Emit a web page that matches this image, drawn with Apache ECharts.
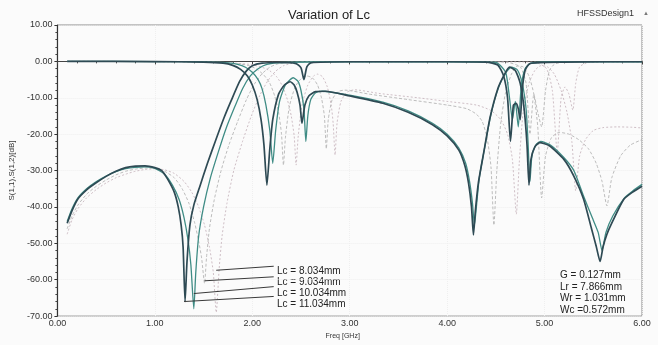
<!DOCTYPE html>
<html>
<head>
<meta charset="utf-8">
<script src="https://cdn.jsdelivr.net/npm/echarts@6/dist/echarts.min.js"></script>
<style>
  html, body { margin: 0; padding: 0; background: #fbfbfb; }
  #chart { width: 658px; height: 345px; }
</style>
</head>
<body>
<div id="chart"></div>
<script>
// curves: [freq GHz, dB]
const lc11S11 = [[0.10,-44.5],[0.15,-41],[0.21,-37.8],[0.30,-35.3],[0.39,-33.5],[0.50,-31.6],[0.60,-30.2],[0.70,-29.2],[0.80,-28.8],[0.90,-28.7],[1.00,-29.2],[1.07,-30],[1.13,-32.3],[1.20,-36],[1.24,-40],[1.27,-45],[1.29,-51],[1.31,-66],[1.33,-55],[1.36,-45],[1.40,-39.5],[1.46,-34.5],[1.54,-28],[1.62,-22],[1.71,-15.5],[1.78,-11],[1.87,-5.5],[1.94,-2.6],[2.00,-1.2],[2.10,-0.5],[2.25,-0.3],[2.45,-0.6],[2.50,-1.8],[2.53,-5],[2.56,-1.5],[2.60,-0.4],[3.00,-0.1],[3.50,-0.1],[4.00,-0.1],[4.40,-0.2],[4.52,-1],[4.58,-4],[4.62,-10],[4.65,-22],[4.68,-12],[4.71,-11.5],[4.73,-13],[4.75,-16],[4.77,-8],[4.80,-2.5],[4.85,-0.6],[5.20,-0.2],[5.60,-0.1],[6.00,-0.1]];
const lc11S12 = [[0.10,0],[1.00,-0.05],[1.50,-0.2],[1.70,-0.5],[1.80,-1.1],[1.88,-2.2],[1.95,-4],[2.00,-6.5],[2.05,-10.5],[2.09,-16],[2.12,-23],[2.15,-34],[2.18,-24],[2.21,-16],[2.27,-9],[2.33,-6.5],[2.39,-5.6],[2.43,-6.5],[2.46,-8.5],[2.49,-12],[2.51,-17],[2.54,-12],[2.58,-9.5],[2.65,-8.3],[2.75,-8.2],[3.00,-9.5],[3.34,-11.5],[3.60,-14],[3.85,-17.4],[4.00,-20.5],[4.12,-24.4],[4.18,-28.5],[4.22,-33.5],[4.25,-40],[4.27,-47.7],[4.29,-41],[4.32,-33.5],[4.38,-24.4],[4.44,-15.5],[4.52,-7.5],[4.59,-3.5],[4.64,-1.6],[4.70,-2.5],[4.75,-6],[4.79,-13],[4.82,-23],[4.84,-34],[4.86,-27],[4.90,-23.5],[4.95,-22.3],[5.05,-23.2],[5.20,-27],[5.30,-31.5],[5.40,-37.8],[5.48,-45.8],[5.53,-50.8],[5.57,-55],[5.60,-51],[5.64,-47.5],[5.68,-45],[5.81,-38],[5.90,-36],[6.00,-34.3]];

const lc10S11 = [[0.10,-44],[0.15,-40.5],[0.21,-37.5],[0.30,-35],[0.40,-33],[0.50,-31.5],[0.60,-30.3],[0.70,-29.5],[0.80,-29.1],[0.90,-29],[1.00,-29.4],[1.10,-31],[1.18,-34],[1.25,-38],[1.30,-43],[1.34,-49],[1.37,-56],[1.40,-68],[1.42,-58],[1.45,-48],[1.50,-40],[1.57,-32],[1.65,-25],[1.73,-18.5],[1.82,-12.5],[1.90,-7.5],[1.98,-4],[2.06,-2],[2.15,-0.8],[2.30,-0.3],[3.00,-0.1],[4.00,-0.1],[4.50,-0.3],[4.60,-3],[4.64,-10],[4.67,-16],[4.70,-11],[4.73,-18],[4.76,-7],[4.80,-2],[4.86,-0.5],[5.20,-0.1],[6.00,-0.1]];
const lc10S12 = [[0.10,0],[1.00,-0.05],[1.50,-0.15],[1.75,-0.4],[1.85,-0.8],[1.93,-1.6],[2.00,-3],[2.06,-5],[2.10,-7.5],[2.14,-12],[2.18,-19],[2.21,-28],[2.24,-19],[2.28,-11],[2.34,-6.5],[2.42,-4.5],[2.47,-5.5],[2.50,-8],[2.53,-13],[2.55,-22],[2.57,-15],[2.60,-10.5],[2.65,-8.6],[2.72,-8.2],[3.00,-9.3],[3.34,-11.2],[3.60,-13.6],[3.85,-17],[4.00,-20],[4.12,-23.8],[4.19,-28],[4.23,-33],[4.26,-39],[4.28,-45],[4.30,-40],[4.33,-32],[4.39,-23],[4.45,-14.5],[4.53,-7],[4.60,-3.2],[4.66,-1.6],[4.72,-2.3],[4.77,-6],[4.81,-13],[4.83,-22],[4.85,-33],[4.87,-26],[4.91,-23],[4.96,-22],[5.06,-23],[5.20,-26.5],[5.30,-30],[5.40,-37],[5.49,-43],[5.55,-47],[5.59,-52],[5.63,-47],[5.70,-42.5],[5.82,-37.5],[5.91,-35.5],[6.00,-33.8]];

const lc9S11 = [[0.10,-46],[0.15,-42.5],[0.21,-39.5],[0.30,-36.5],[0.40,-34.3],[0.50,-32.6],[0.60,-31.2],[0.70,-30.2],[0.80,-29.6],[0.90,-29.3],[1.00,-29.4],[1.10,-30.2],[1.20,-32],[1.28,-35],[1.35,-39],[1.41,-44.5],[1.45,-49.5],[1.48,-54],[1.51,-61],[1.53,-54],[1.56,-46],[1.61,-38],[1.68,-30],[1.76,-23],[1.85,-16.5],[1.94,-10.5],[2.02,-6.3],[2.10,-3.4],[2.18,-1.6],[2.26,-0.7],[2.40,-0.2],[3.00,-0.1],[4.00,-0.1],[4.60,-0.2],[4.75,-1.5],[4.81,-6],[4.85,-20],[4.89,-9],[4.93,-14],[4.97,-18],[5.01,-8],[5.05,-2.5],[5.10,-0.8],[5.20,-0.2],[6.00,-0.1]];
const lc9S12 = [[0.10,0],[1.00,-0.05],[1.60,-0.2],[1.85,-0.6],[1.97,-1.2],[2.05,-2.2],[2.12,-3.8],[2.18,-6],[2.23,-9.5],[2.27,-14],[2.30,-20],[2.32,-28.5],[2.34,-21],[2.38,-12.5],[2.44,-7],[2.50,-4.8],[2.56,-4],[2.62,-4.6],[2.67,-6.5],[2.71,-10],[2.74,-15],[2.76,-24],[2.78,-16],[2.82,-10.5],[2.88,-8.3],[2.95,-7.9],[3.20,-9],[3.60,-10.5],[4.00,-12],[4.20,-13],[4.30,-14.5],[4.36,-16.5],[4.41,-21],[4.45,-29],[4.48,-45],[4.51,-30],[4.55,-17],[4.60,-8.5],[4.66,-3.5],[4.72,-1.3],[4.78,-1.5],[4.84,-4],[4.89,-9],[4.93,-18],[4.97,-37.5],[5.01,-26],[5.07,-21],[5.15,-19.5],[5.25,-20],[5.35,-21.5],[5.45,-24],[5.53,-28],[5.59,-33],[5.64,-39.7],[5.69,-32],[5.78,-26],[5.88,-23],[6.00,-21.5]];

const lc8S11 = [[0.10,-47.5],[0.15,-43.5],[0.21,-40.5],[0.30,-37.5],[0.40,-35.2],[0.50,-33.4],[0.60,-32],[0.70,-31],[0.80,-30.2],[0.90,-29.7],[1.00,-29.5],[1.10,-29.8],[1.20,-30.8],[1.30,-33],[1.38,-36],[1.45,-40],[1.51,-45],[1.56,-51],[1.60,-58],[1.63,-69],[1.66,-57],[1.69,-48],[1.74,-39],[1.81,-30],[1.90,-22],[1.99,-15],[2.08,-9.2],[2.16,-5.3],[2.24,-2.7],[2.32,-1.2],[2.45,-0.3],[3.00,-0.1],[4.00,-0.1],[4.90,-0.2],[5.02,-2],[5.08,-8],[5.13,-25],[5.17,-10],[5.21,-7],[5.25,-9],[5.29,-13.4],[5.32,-6],[5.36,-1.5],[5.45,-0.3],[6.00,-0.1]];
const lc8S12 = [[0.10,0],[1.00,-0.05],[1.70,-0.3],[1.97,-0.8],[2.10,-1.6],[2.18,-2.6],[2.25,-4.2],[2.31,-6.8],[2.36,-10.5],[2.40,-15],[2.43,-20.5],[2.45,-28.5],[2.47,-21],[2.51,-12],[2.57,-6.5],[2.63,-4],[2.67,-3.5],[2.72,-4.2],[2.77,-7],[2.81,-12],[2.83,-17],[2.85,-25.7],[2.87,-17],[2.91,-11],[2.97,-8.5],[3.05,-7.8],[3.30,-8.8],[3.70,-10],[4.00,-11],[4.30,-12],[4.45,-13.5],[4.55,-16],[4.62,-20],[4.67,-27],[4.71,-42],[4.74,-28],[4.78,-14],[4.84,-6],[4.90,-2.5],[4.96,-1.2],[5.03,-1.5],[5.10,-3.5],[5.17,-8],[5.23,-14],[5.28,-22],[5.32,-35.6],[5.36,-26],[5.42,-21.5],[5.50,-19],[5.60,-18.2],[5.75,-18],[5.90,-18.1],[6.00,-18.3]];

const lcLabels = ['Lc = 8.034mm', 'Lc = 9.034mm', 'Lc = 10.034mm', 'Lc = 11.034mm'];
// where each label's leader touches its S11 notch, and where it ends
const leaderFrom = [[1.63,-57.4],[1.51,-60.3],[1.40,-63.8],[1.30,-66]];
const leaderTo = [[2.22,-56.3],[2.22,-59.2],[2.22,-61.9],[2.22,-64.6]];
const paramLabels = ['G = 0.127mm', 'Lr = 7.866mm', 'Wr = 1.031mm', 'Wc =0.572mm'];

const yTicks = { min: -70, max: 10, step: 10 };
const xTicks = { min: 0, max: 6, step: 1 };

const FONT = '"Liberation Sans", Arial, sans-serif';

function curve(name, data, color, width, dash, leaderIdx) {
    const s = {
        name: name,
        type: 'line',
        data: data,
        showSymbol: false,
        smooth: 0.2,
        lineStyle: { color: color, width: width, type: dash },
        silent: true
    };
    if (leaderIdx !== undefined) {
        s.markLine = {
            silent: true,
            symbol: 'none',
            label: { show: false },
            lineStyle: { color: '#3a3a3a', width: 1, type: 'solid' },
            data: [[{ coord: leaderFrom[leaderIdx] }, { coord: leaderTo[leaderIdx] }]]
        };
    }
    return s;
}

const graphics = [
    { type: 'text', left: 577, top: 9, style: { text: 'HFSSDesign1', font: '9px ' + FONT, fill: '#333' } },
    { type: 'text', left: 643, top: 10, style: { text: '▲', font: '6px ' + FONT, fill: '#777' } }
];
lcLabels.forEach((t, i) => {
    graphics.push({ type: 'text', left: 277, top: 266 + i * 11, style: { text: t, font: '10px ' + FONT, fill: '#222' } });
});
paramLabels.forEach((t, i) => {
    graphics.push({ type: 'text', left: 560, top: 270 + i * 11.8, style: { text: t, font: '10px ' + FONT, fill: '#222' } });
});

const option = {
    animation: false,
    backgroundColor: '#fbfbfb',
    title: {
        text: 'Variation of Lc',
        left: 'center',
        top: 4,
        textStyle: { fontFamily: FONT, fontSize: 13, fontWeight: 'normal', color: '#222' }
    },
    grid: { left: 52, right: 16, top: 25, bottom: 22, show: true, borderColor: '#8a8a8a', borderWidth: 1 },
    xAxis: {
        type: 'value',
        min: xTicks.min, max: xTicks.max, interval: xTicks.step,
        name: 'Freq [GHz]',
        nameLocation: 'middle',
        nameGap: 12,
        nameTextStyle: { fontFamily: FONT, fontSize: 7, color: '#333', padding: [0, 14, 0, 0] },
        axisLine: { lineStyle: { color: '#444', width: 1 } },
        axisTick: { length: 3, lineStyle: { color: '#444' } },
        minorTick: { show: true, splitNumber: 5, length: 2, lineStyle: { color: '#555' } },
        axisLabel: { fontFamily: FONT, fontSize: 9, color: '#333', margin: 3, formatter: v => v.toFixed(2) },
        splitLine: { show: true, lineStyle: { color: '#efefef', type: 'dotted' } }
    },
    yAxis: {
        type: 'value',
        min: yTicks.min, max: yTicks.max, interval: yTicks.step,
        name: 'S(1,1),S(1,2)[dB]',
        nameLocation: 'middle',
        nameGap: 36,
        nameTextStyle: { fontFamily: FONT, fontSize: 8, color: '#333' },
        axisLine: { show: true, lineStyle: { color: '#333', width: 1.2 } },
        axisTick: { show: true, length: 3, lineStyle: { color: '#333' } },
        minorTick: { show: true, splitNumber: 5, length: 2, lineStyle: { color: '#444' } },
        axisLabel: { fontFamily: FONT, fontSize: 9, color: '#333', margin: 5, formatter: v => v.toFixed(2) },
        splitLine: { show: true, lineStyle: { color: '#efefef', type: 'dotted' } }
    },
    graphic: graphics,
    series: [
        curve('Lc8 S11', lc8S11, '#c3aeb8', 0.8, [2, 2], 0),
        curve('Lc8 S12', lc8S12, '#c3aeb8', 0.8, [2, 2]),
        curve('Lc9 S11', lc9S11, '#acacac', 0.8, [3, 2], 1),
        curve('Lc9 S12', lc9S12, '#acacac', 0.8, [3, 2]),
        curve('Lc10 S11', lc10S11, '#3f8c85', 1.3, 'solid', 2),
        curve('Lc10 S12', lc10S12, '#3f8c85', 1.3, 'solid'),
        curve('Lc11 S11', lc11S11, '#2e4a54', 1.7, 'solid', 3),
        curve('Lc11 S12', lc11S12, '#2e4a54', 1.7, 'solid')
    ]
};

const myChart = echarts.init(document.getElementById('chart'));
myChart.setOption(option);
</script>
</body>
</html>
